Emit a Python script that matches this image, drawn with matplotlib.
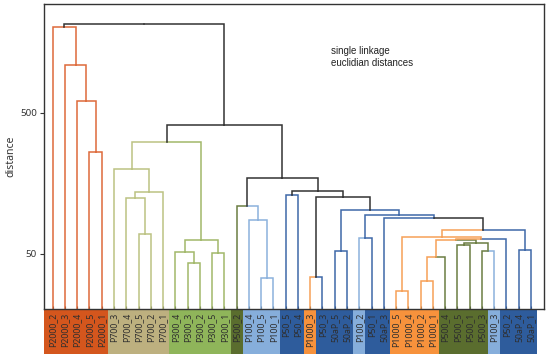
import matplotlib.pyplot as plt
from matplotlib.patches import Rectangle
from matplotlib.transforms import blended_transform_factory

# leaves, left to right as they sit under the tree
leaf_labels = ["P2000_2", "P2000_3", "P2000_4", "P2000_5", "P2000_1",
               "P700_3", "P700_4", "P700_5", "P700_2", "P700_1",
               "P300_4", "P300_3", "P300_2", "P300_5", "P300_1",
               "P500_2", "P100_4", "P100_5", "P100_1", "P50_5", "P50_4",
               "P1000_3", "P50_3", "50aP_5", "50aP_2", "P100_2", "P50_1", "50aP_3",
               "P1000_5", "P1000_4", "P1000_2", "P1000_1",
               "P500_4", "P500_5", "P500_1", "P500_3", "P100_3",
               "P50_2", "50aP_4", "50aP_1"]

# merges (node ids: leaves 0..39, new nodes from 40 on)
merge_left = [3, 2, 1, 0, 7, 6, 45, 5, 11, 10, 13, 49, 47,
              17, 16, 15, 19, 21, 23, 25, 28, 30, 61, 33, 35, 63, 62, 66, 60,
              38, 68, 27, 59, 58, 57, 56, 55, 52, 43]
merge_right = [4, 40, 41, 42, 8, 44, 9, 46, 12, 48, 14, 50, 51,
               18, 53, 54, 20, 22, 24, 26, 29, 31, 32, 34, 36, 64, 65, 37, 67,
               39, 69, 70, 71, 72, 73, 74, 75, 76, 77]
merge_height = [264, 608, 1092, 2045, 68.6, 123.1, 137.1, 197.9, 42.9, 51.3, 50.5, 62.9, 307.9,
                33.5, 86.3, 109.0, 129.9, 34.1, 51.9, 64.6, 27.0, 31.9, 47.3, 57.3, 51.9, 59.9, 62.2,
                63.7, 65.6, 52.8, 73.2, 89.6, 93.6, 102.8, 126.3, 138.7, 170.8, 408.8, 2127]
# colour group of the left / right half of each link
merge_col_left = ["P2000", "P2000", "P2000", "P2000", "P700", "P700", "P700", "P700",
                  "P300", "P300", "P300", "P300", "P700",
                  "P100", "P100", "P500", "P50", "P1000", "P50", "P100", "P1000", "P1000",
                  "P1000", "P500", "P500", "P500", "P1000", "P1000", "P1000", "P50",
                  "P1000", "P50", "P50", "P50", "k", "k", "k", "k", "k"]
merge_col_right = ["P2000", "P2000", "P2000", "P2000", "P700", "P700", "P700", "P700",
                   "P300", "P300", "P300", "P300", "P300",
                   "P100", "P100", "P100", "P50", "P50", "P50", "P50", "P1000", "P1000",
                   "P500", "P500", "P100", "P500", "P500", "P50", "P1000", "P50",
                   "P50", "k", "P50", "P50", "k", "k", "k", "k", "k"]

line_colors = {"P2000": "#de6a3a", "P700": "#bcc283", "P300": "#a2b86a", "P500": "#6b7d42",
               "P100": "#8cb2dc", "P50": "#3e68a8", "50aP": "#3e68a8", "P1000": "#f6a057",
               "k": "#333333"}
label_colors = {"P2000": "#d4561d", "P700": "#bdb07f", "P300": "#8fb55a", "P500": "#5a6d2e",
                "P100": "#86aedb", "P50": "#2e5c9c", "50aP": "#2e5c9c", "P1000": "#f7923c"}

fig = plt.figure(figsize=(5.49, 3.56), dpi=100)
ax = fig.add_axes([0.0801, 0.132, 0.911, 0.857])

n = len(leaf_labels)
bottom = 1.0
node_x = [float(i) for i in range(n)]
node_h = [bottom] * n
for l, r, h in zip(merge_left, merge_right, merge_height):
    node_x.append((node_x[l] + node_x[r]) / 2)
    node_h.append(h)

for l, r, h, cl, cr in zip(merge_left, merge_right, merge_height, merge_col_left, merge_col_right):
    xl, xr = node_x[l], node_x[r]
    xm = (xl + xr) / 2
    ax.plot([xl, xl, xm], [node_h[l], h, h], color=line_colors[cl], lw=1.1,
            solid_joinstyle="miter", zorder=3 if cl == "k" else 2)
    ax.plot([xm, xr, xr], [h, h, node_h[r]], color=line_colors[cr], lw=1.1,
            solid_joinstyle="miter", zorder=3 if cr == "k" else 2)

ax.set_yscale("log")
ax.set_ylim(20.2, 2966)
ax.set_xlim(-0.71, 40.07)
ax.set_yticks([50, 500])
ax.set_yticklabels(["50", "500"], fontsize=7, family="Noto Sans", color="#333333")
ax.minorticks_off()
ax.tick_params(axis="y", length=3, width=0.8, color="#333333", pad=2)
ax.set_xticks(range(n))
ax.set_xticklabels([])
ax.tick_params(axis="x", direction="in", length=2, width=0.8, color="#333333")
ax.set_ylabel("distance", fontsize=7.5, family="Noto Sans", color="#333333", labelpad=3)
for s in ax.spines.values():
    s.set_color("#333333")
    s.set_linewidth(1.0)

# coloured label boxes under the axis
trans = blended_transform_factory(ax.transData, ax.transAxes)
for i, lab in enumerate(leaf_labels):
    grp = lab.split("_")[0]
    x0 = i - 0.5 if i > 0 else -0.71
    w = (i + 0.5) - x0
    ax.add_patch(Rectangle((x0, -0.148), w, 0.145, transform=trans, clip_on=False,
                           facecolor=label_colors[grp], edgecolor="none"))
    ax.text(i, -0.012, lab, transform=trans, rotation=90, ha="center", va="top",
            fontsize=6.3, family="Noto Sans", color="#2e2e2e")

ax.text(0.573, 0.861, "single linkage\neuclidian distances", transform=ax.transAxes,
        ha="left", va="top", fontsize=7, family="Liberation Sans", color="#222222")

fig.savefig("out.png", dpi=100)
